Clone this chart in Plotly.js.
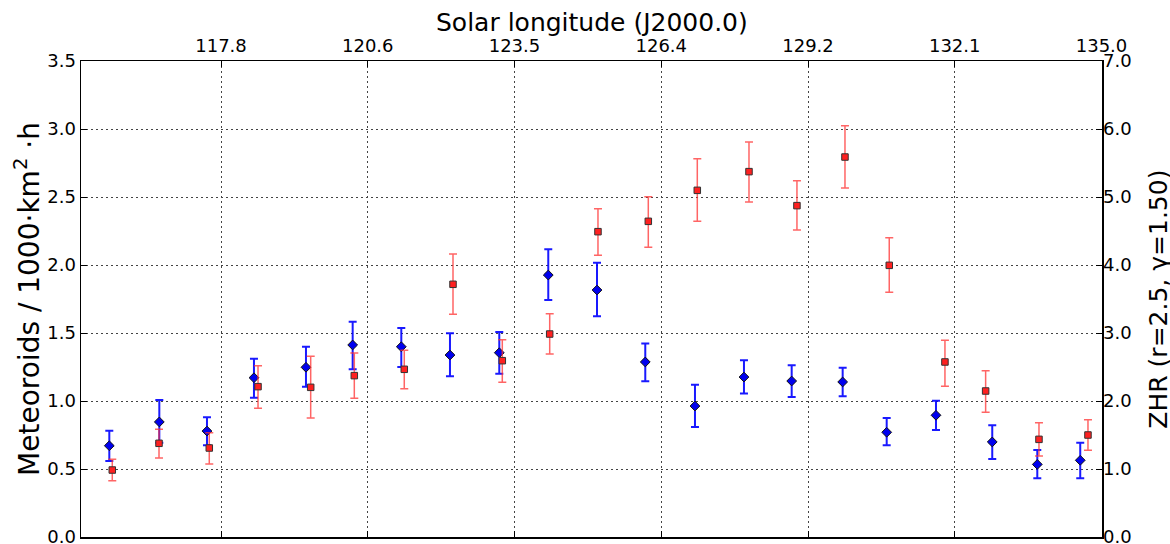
<!DOCTYPE html>
<html>
<head>
<meta charset="utf-8">
<script src="https://cdn.plot.ly/plotly-3.0.1.min.js"></script>
<style>html,body{margin:0;padding:0;background:#fff;}#chart{width:1170px;height:544px;}</style>
</head>
<body>
<div id="chart"></div>
<script>
// Solar longitude (J2000.0) of each measurement
const fluxLon = [115.618, 116.595, 117.526, 118.444, 119.460, 120.372, 121.322, 122.273, 123.236, 124.193, 125.145, 126.088, 127.059, 128.016, 128.948, 129.944, 130.804, 131.767, 132.866, 133.746, 134.585];
// Meteoroid flux (per 1000 km^2 h), left axis
const fluxVal = [0.671, 0.846, 0.779, 1.171, 1.248, 1.412, 1.399, 1.338, 1.355, 1.926, 1.816, 1.287, 0.963, 1.176, 1.147, 1.140, 0.770, 0.895, 0.699, 0.534, 0.564];
const fluxErrPlus = [0.111, 0.161, 0.101, 0.140, 0.151, 0.171, 0.138, 0.160, 0.152, 0.189, 0.201, 0.135, 0.157, 0.123, 0.115, 0.105, 0.105, 0.107, 0.122, 0.106, 0.129];
const fluxErrMinus = [0.112, 0.153, 0.105, 0.147, 0.143, 0.179, 0.149, 0.156, 0.154, 0.183, 0.193, 0.142, 0.154, 0.120, 0.118, 0.105, 0.096, 0.108, 0.125, 0.102, 0.132];

const zhrLon = [115.676, 116.589, 117.571, 118.523, 119.552, 120.404, 121.380, 122.332, 123.295, 124.221, 125.164, 126.147, 127.104, 128.114, 129.051, 129.989, 130.854, 131.942, 132.737, 133.779, 134.736];
// ZHR, right axis
const zhrVal = [0.985, 1.378, 1.309, 2.211, 2.201, 2.373, 2.466, 3.716, 2.593, 2.985, 4.490, 4.642, 5.098, 5.373, 4.873, 5.588, 3.995, 2.574, 2.147, 1.436, 1.500];
const zhrErrPlus = [0.158, 0.206, 0.225, 0.309, 0.456, 0.333, 0.279, 0.446, 0.309, 0.299, 0.338, 0.363, 0.466, 0.436, 0.367, 0.461, 0.407, 0.318, 0.299, 0.245, 0.225];
const zhrErrMinus = [0.157, 0.216, 0.235, 0.319, 0.451, 0.334, 0.285, 0.441, 0.318, 0.294, 0.348, 0.382, 0.456, 0.447, 0.358, 0.456, 0.397, 0.358, 0.314, 0.245, 0.225];

// Axis ticks
const lonTickVals = [117.8, 120.667, 123.533, 126.4, 129.267, 132.133, 135.0];
const lonTickText = ['117.8', '120.6', '123.5', '126.4', '129.2', '132.1', '135.0'];
const bottomTickVals = [117.585, 120.443, 123.301, 126.159, 129.017, 131.875, 134.733];
const leftTickVals = [0, 0.5, 1.0, 1.5, 2.0, 2.5, 3.0, 3.5];
const rightTickVals = [0, 1, 2, 3, 4, 5, 6, 7];

const xTitle = 'Solar longitude (J2000.0)';
const yTitle = 'Meteoroids / 1000·km<sup>2</sup> ·h';
const y2Title = 'ZHR (r=2.5, γ=1.50)';

const FONT = 'DejaVu Sans, Liberation Sans, sans-serif';

const traces = [
  {
    x: zhrLon, y: zhrVal, yaxis: 'y2', type: 'scatter', mode: 'markers',
    marker: {symbol: 'square', size: 6.5, color: '#ff2020', line: {color: '#333333', width: 1}},
    error_y: {type: 'data', symmetric: false, array: zhrErrPlus, arrayminus: zhrErrMinus,
              color: 'rgba(255,50,50,0.75)', thickness: 1.5, width: 4},
    hoverinfo: 'skip', showlegend: false
  },
  {
    x: fluxLon, y: fluxVal, type: 'scatter', mode: 'markers',
    marker: {symbol: 'diamond', size: 7.5, color: '#0000ee', line: {color: '#111111', width: 1}},
    error_y: {type: 'data', symmetric: false, array: fluxErrPlus, arrayminus: fluxErrMinus,
              color: 'rgba(0,0,255,0.9)', thickness: 2, width: 4},
    hoverinfo: 'skip', showlegend: false
  }
];

const gridDash = '1.5px,3.5px';

const layout = {
  width: 1170, height: 544,
  margin: {l: 81, r: 68, t: 61, b: 7, pad: 0},
  paper_bgcolor: '#ffffff', plot_bgcolor: '#ffffff',
  font: {family: FONT, size: 18, color: '#000'},
  xaxis: {
    side: 'top', range: [115.065, 135.01],
    tickmode: 'array', tickvals: lonTickVals, ticktext: lonTickText,
    ticks: 'inside', ticklen: 6, tickwidth: 1, tickcolor: '#000',
    showline: true, linecolor: '#000', linewidth: 1.5, mirror: 'ticks',
    showgrid: true, gridcolor: '#444', gridwidth: 1, griddash: gridDash,
    zeroline: false,
    tickfont: {family: FONT, size: 18}
  },
  xaxis2: {
    overlaying: 'x', anchor: 'y', side: 'bottom', range: [115.065, 135.01],
    tickmode: 'array', tickvals: bottomTickVals, showticklabels: false,
    ticks: 'inside', ticklen: 3, tickwidth: 1, tickcolor: '#000',
    showline: false, showgrid: false, zeroline: false
  },
  yaxis: {
    range: [0, 3.5], tickmode: 'array', tickvals: leftTickVals, tickformat: '.1f',
    ticks: 'inside', ticklen: 6, tickwidth: 1, tickcolor: '#000',
    showline: true, linecolor: '#000', linewidth: 1.5, mirror: true,
    showgrid: true, gridcolor: '#444', gridwidth: 1, griddash: gridDash,
    zeroline: false, ticklabeloverflow: 'allow',
    tickfont: {family: FONT, size: 18}
  },
  yaxis2: {
    overlaying: 'y', side: 'right', range: [0, 7],
    tickmode: 'array', tickvals: rightTickVals, tickformat: '.1f',
    ticks: 'inside', ticklen: 6, tickwidth: 1, tickcolor: '#000',
    showline: false, showgrid: false, zeroline: false, ticklabeloverflow: 'allow',
    tickfont: {family: FONT, size: 18}
  },
  annotations: [
    {text: xTitle, xref: 'paper', yref: 'paper', x: 0.5005, y: 1.0819,
     xanchor: 'center', yanchor: 'middle', showarrow: false,
     font: {family: FONT, size: 25, color: '#000'}},
    {text: yTitle, xref: 'paper', yref: 'paper', x: -0.053, y: 0.5,
     xanchor: 'center', yanchor: 'middle', textangle: -90, showarrow: false,
     font: {family: FONT, size: 28, color: '#000'}},
    {text: y2Title, xref: 'paper', yref: 'paper', x: 1.0545, y: 0.5,
     xanchor: 'center', yanchor: 'middle', textangle: -90, showarrow: false,
     font: {family: FONT, size: 25, color: '#000'}}
  ]
};

Plotly.newPlot('chart', traces, layout, {staticPlot: true, displayModeBar: false});
</script>
</body>
</html>
